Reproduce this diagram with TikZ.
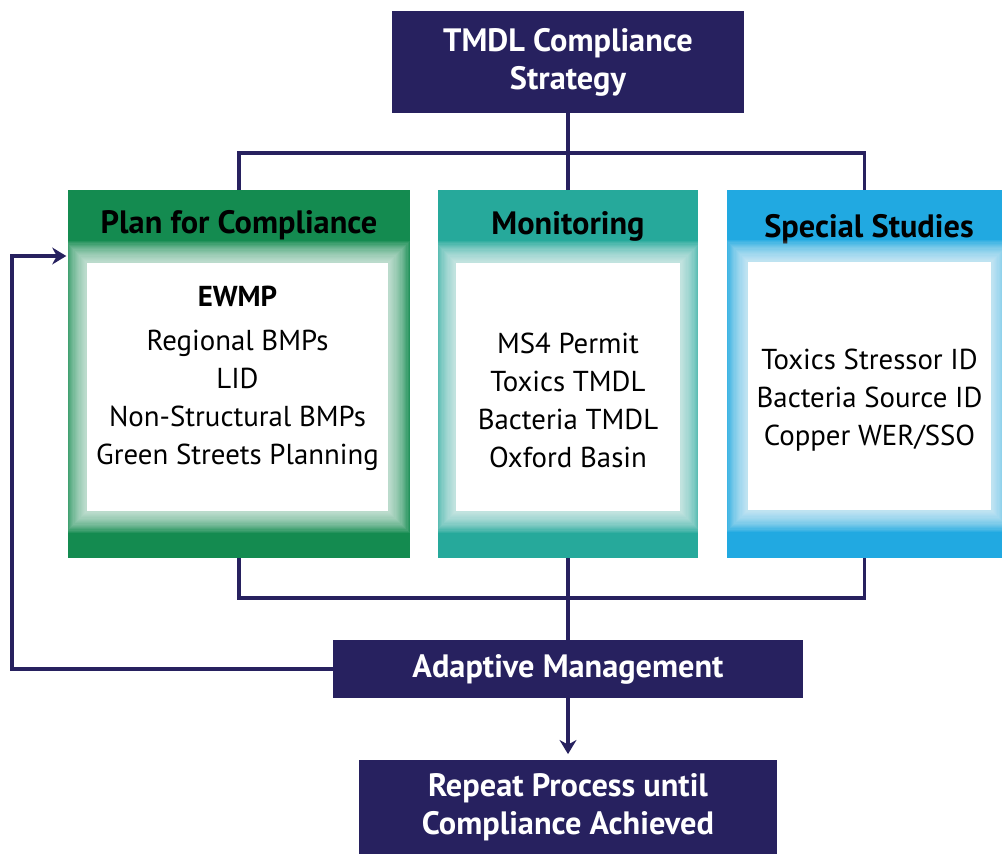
\documentclass[tikz,border=0pt]{standalone}
\usepackage{xcolor}
\usepackage{fontspec}
\setmainfont{PT Sans}
\usetikzlibrary{positioning,arrows.meta}
\definecolor{navy}{RGB}{39,33,95}
\definecolor{plangreen}{RGB}{20,139,80}
\definecolor{monteal}{RGB}{38,169,155}
\definecolor{studyblue}{RGB}{33,169,225}
\pgfdeclarelayer{fg}
\pgfsetlayers{main,fg}

\begin{document}
\begin{tikzpicture}[x=0.025cm,y=-0.025cm,
  navybox/.style={fill=navy,text=white,font=\bfseries\fontsize{23}{27}\selectfont,align=center,inner sep=0pt},
  colbox/.style={minimum height=9.2cm,inner sep=0pt},
  whitebox/.style={fill=white,minimum height=6.2cm,inner sep=0pt},
  head/.style={font=\bfseries\fontsize{23}{27}\selectfont,inner sep=0pt},
  listtxt/.style={align=center,font=\fontsize{20.5}{27}\selectfont,inner sep=0pt},
  link/.style={draw=navy,line width=2.2pt},
  glow/.style={fill=white,opacity=0.07}]
\useasboundingbox (0,0) rectangle (1002,854);

\node[navybox,minimum width=8.8cm,minimum height=2.55cm] (tmdl) at (568,62) {TMDL Compliance\\Strategy};
\node[colbox,fill=plangreen,minimum width=8.55cm] (plan) at (239,374) {};
\node[colbox,fill=monteal,minimum width=6.5cm] (monitor) at (568,374) {};
\node[colbox,fill=studyblue,minimum width=6.875cm] (study) at (864.5,374) {};
\node[head] (planhd) at (239,225) {Plan for Compliance};
\node[head] (monhd) at (568,226) {Monitoring};
\node[head] (studyhd) at (869,229) {Special Studies};
\node[navybox,minimum width=11.75cm,minimum height=1.45cm] (adapt) at (568,669) {Adaptive Management};
\node[navybox,minimum width=10.45cm,minimum height=2.35cm] (repeat) at (568,807) {Repeat Process until\\Compliance Achieved};

\begin{pgfonlayer}{fg}
\node[whitebox,minimum width=7.525cm] (planwb) at (237.5,387) {};
\node[whitebox,minimum width=5.6cm] (monwb) at (568,387) {};
\node[whitebox,minimum width=6.075cm] (studywb) at (869.5,386) {};
\node[listtxt,font=\bfseries\fontsize{20.5}{27}\selectfont] (ewmp) at (237.5,296) {EWMP};
\node[listtxt] (planlist) at (237.5,400) {Regional BMPs\\LID\\Non-Structural BMPs\\Green Streets Planning};
\node[listtxt] (monlist) at (568,400) {MS4 Permit\\Toxics TMDL\\Bacteria TMDL\\Oxford Basin};
\node[listtxt] (studylist) at (869.5,400) {Toxics Stressor ID\\Bacteria Source ID\\Copper WER/SSO};
\end{pgfonlayer}

% soft white edge round the lists
\foreach \wb in {planwb,monwb,studywb}
  \foreach \g in {1,...,18}
    \fill[glow] ([shift={(-\g*1.2,\g*1.2)}]\wb.south west) rectangle ([shift={(\g*1.2,-\g*1.2)}]\wb.north east);

\coordinate (bustop) at (568,153);
\coordinate (busbot) at (568,598);
\coordinate (loop) at (12,256);

\draw[link] (tmdl.south) -- (monitor.north);
\draw[link] (plan.north) |- (bustop) -| (study.north);
\draw[link] (plan.south) |- (busbot) -| (study.south);
\draw[link] (monitor.south) -- (adapt.north);
\draw[link,-{Stealth[length=10pt,width=12pt]}] (adapt.south) -- ([yshift=4pt]repeat.north);
\draw[link,-{Stealth[length=10pt,width=12pt]}] (adapt.west) -| (loop) -- ([xshift=-1pt]loop -| plan.west);

\end{tikzpicture}
\end{document}
